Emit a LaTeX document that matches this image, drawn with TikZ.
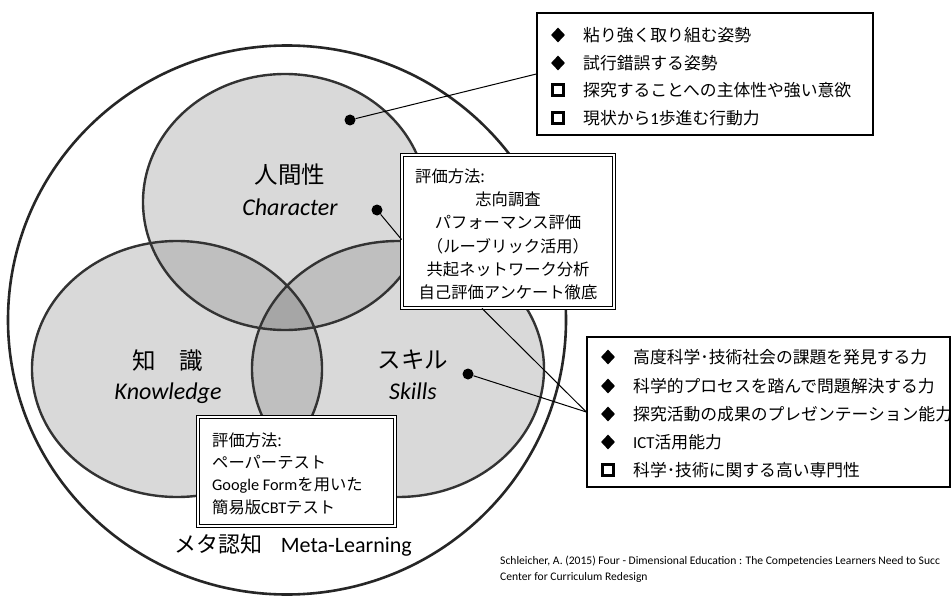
\documentclass[tikz,border=0pt]{standalone}
\usepackage{fontspec}
\setmainfont{Carlito}
\newfontfamily\jp{Noto Sans CJK JP}
\newcommand\lat[1]{{\rmfamily #1}}
\usetikzlibrary{shapes.geometric}
\definecolor{vone}{HTML}{D9D9D9}
\definecolor{vtwo}{HTML}{BFBFBF}
\definecolor{vthree}{HTML}{A6A6A6}
\begin{document}
\begin{tikzpicture}[x=1pt,y=-1pt,
  outerline/.style={line width=2.6pt, draw=black!85},
  vennline/.style={line width=2.4pt, draw=black!80},
  lbl/.style={font=\jp\fontsize{23.5}{24}\selectfont, inner sep=0},
  en/.style={font=\fontsize{24}{24}\selectfont\itshape, inner sep=0},
  item/.style={anchor=west, font=\jp\fontsize{16.8}{18}\selectfont, inner sep=0},
  evtext/.style={font=\jp\fontsize{16.3}{18}\selectfont, inner sep=0},
  bdia/.style={diamond, fill=black, minimum width=14pt, minimum height=15pt, inner sep=0},
  bsq/.style={rectangle, draw=black, line width=2.8pt, minimum size=11pt, inner sep=0},
  dot/.style={circle, fill=black, minimum size=11pt, inner sep=0},
  conn/.style={line width=1pt, draw=black},
  citetext/.style={anchor=west, inner sep=0, font=\fontsize{11.6}{14}\selectfont},
  listbox/.style={rectangle, draw=black, line width=1.3pt, fill=white, inner sep=0},
  evbox/.style={rectangle, draw=black, double=white, double distance=2pt, line width=0.9pt, fill=white, inner sep=0}
]
\useasboundingbox (0,0) rectangle (952,596);
% outer circle
\path[outerline, fill=white] (287,320) ellipse [x radius=279, y radius=274.5];
% venn fills
\fill[vone] (285,202) ellipse [x radius=142, y radius=128];
\fill[vone] (177,369) ellipse [x radius=145, y radius=128];
\fill[vone] (398,369) ellipse [x radius=146, y radius=128];
\begin{scope}
  \clip (285,202) ellipse [x radius=142, y radius=128];
  \fill[vtwo] (177,369) ellipse [x radius=145, y radius=128];
  \fill[vtwo] (398,369) ellipse [x radius=146, y radius=128];
\end{scope}
\begin{scope}
  \clip (177,369) ellipse [x radius=145, y radius=128];
  \fill[vtwo] (398,369) ellipse [x radius=146, y radius=128];
  \clip (398,369) ellipse [x radius=146, y radius=128];
  \fill[vthree] (285,202) ellipse [x radius=142, y radius=128];
\end{scope}
\draw[vennline] (285,202) ellipse [x radius=142, y radius=128];
\draw[vennline] (177,369) ellipse [x radius=145, y radius=128];
\draw[vennline] (398,369) ellipse [x radius=146, y radius=128];
% labels
\node[lbl] (charjp) at (290,175) {人間性};
\node[en] (charen) at (290,207) {Character};
\node[lbl] (knowjp) at (168,361) {知　識};
\node[en] (knowen) at (168,393) {Knowledge};
\node[lbl] (skilljp) at (413,360) {スキル};
\node[en] (skillen) at (413,391) {Skills};
\node[font=\fontsize{22}{22}\selectfont, inner sep=0] (meta) at (293,545) {{\jp メタ認知}\hspace{0.85em}Meta-Learning};
% top-right list box
\node[listbox, minimum width=336pt, minimum height=122pt] (charbox) at (705,74) {};
\node[bdia] (cb1) at (558,35) {};
\node[bdia] (cb2) at (558,63) {};
\node[bsq] (cb3) at (558,90) {};
\node[bsq] (cb4) at (558,118) {};
\node[item] (ct1) at (583,35) {粘り強く取り組む姿勢};
\node[item] (ct2) at (583,63) {試行錯誤する姿勢};
\node[item] (ct3) at (583,90) {探究することへの主体性や強い意欲};
\node[item] (ct4) at (583,118) {現状から\lat{1}歩進む行動力};
% skills list box
\node[listbox, minimum width=363pt, minimum height=150pt] (skillbox) at (768.5,412) {};
\node[bdia] (sb1) at (608,357) {};
\node[bdia] (sb2) at (608,386) {};
\node[bdia] (sb3) at (608,414) {};
\node[bdia] (sb4) at (608,442) {};
\node[bsq] (sb5) at (608,470) {};
\node[item] (st1) at (633,357) {高度科学･技術社会の課題を発見する力};
\node[item] (st2) at (633,386) {科学的プロセスを踏んで問題解決する力};
\node[item] (st3) at (633,414) {探究活動の成果のプレゼンテーション能力};
\node[item] (st4) at (633,442) {\lat{ICT}活用能力};
\node[item] (st5) at (633,470) {科学･技術に関する高い専門性};
% evaluation box 1
\node[evbox, minimum width=212pt, minimum height=153pt] (ev1) at (508,231.5) {};
\node[evtext, anchor=west] (e1a) at (415,176) {評価方法:};
\node[evtext] (e1b) at (508,199) {志向調査};
\node[evtext] (e1c) at (508,222) {パフォーマンス評価};
\node[evtext] (e1d) at (508,246) {（ルーブリック活用）};
\node[evtext] (e1e) at (508,269) {共起ネットワーク分析};
\node[evtext] (e1f) at (508,292) {自己評価アンケート徹底};
% evaluation box 2
\node[evbox, minimum width=197pt, minimum height=109pt] (ev2) at (296.5,471.5) {};
\node[evtext, anchor=west] (e2a) at (212,440) {評価方法:};
\node[evtext, anchor=west] (e2b) at (212,462) {ペーパーテスト};
\node[evtext, anchor=west] (e2c) at (212,485) {\lat{Google Form}を用いた};
\node[evtext, anchor=west] (e2d) at (212,507) {簡易版\lat{CBT}テスト};
% dots and connectors
\node[dot] (dtop) at (350,120) {};
\node[dot] (dchar) at (377,210) {};
\node[dot] (dskill) at (468,374) {};
\draw[conn] (dtop) -- (charbox.west);
\draw[conn] (dchar) -- ([yshift=-8pt]ev1.west);
\draw[conn] (dskill) -- (skillbox.west);
\draw[conn] ([xshift=-26pt]ev1.south) -- (skillbox.west);
% citation
\node[citetext] (cite1) at (500,561) {Schleicher, A. (2015) Four - Dimensional Education : The Competencies Learners Need to Succ};
\node[citetext] (cite2) at (500,577) {Center for Curriculum Redesign};
\end{tikzpicture}
\end{document}
